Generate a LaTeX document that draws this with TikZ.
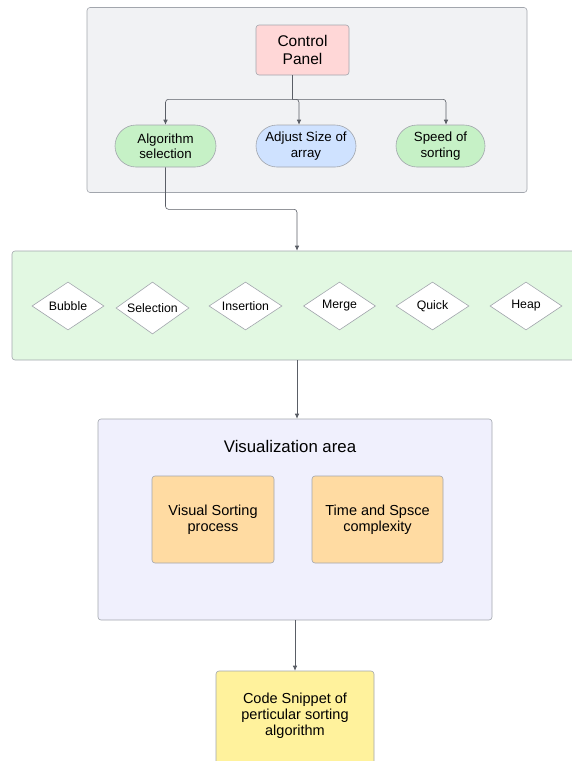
\documentclass[tikz,border=0pt]{standalone}
\usepackage{fontspec}
\setmainfont{Liberation Sans}
\usetikzlibrary{arrows.meta,shapes.geometric}

\definecolor{edgegray}{HTML}{5A5E66}
\definecolor{boxline}{HTML}{A2A6AD}
\definecolor{panelbg}{HTML}{F1F2F4}
\definecolor{pinkfill}{HTML}{FFD7D7}
\definecolor{greenfill}{HTML}{C6F1C6}
\definecolor{bluefill}{HTML}{CFE2FF}
\definecolor{algobg}{HTML}{E2F8E2}
\definecolor{visbg}{HTML}{F0F0FD}
\definecolor{orangefill}{HTML}{FFDBA2}
\definecolor{yellowfill}{HTML}{FFF29C}

\tikzset{
  container/.style={draw=boxline, line width=0.6pt, rounded corners=3pt, inner sep=0pt},
  rectbox/.style={draw=boxline, line width=0.6pt, rounded corners=3pt, align=center, inner sep=2pt},
  pill/.style={draw=boxline, line width=0.6pt, rounded corners=21pt, align=center,
    minimum height=42pt, inner sep=2pt, font=\fontsize{13.3}{15.5}\selectfont},
  algo/.style={diamond, draw=boxline, fill=white, line width=0.6pt, inner sep=0pt,
    minimum width=72pt, minimum height=48pt,
    label={[font=\fontsize{12.3}{14}\selectfont, inner sep=0pt]center:#1}},
  conn/.style={draw=edgegray, line width=0.6pt, rounded corners=3pt},
  arr/.style={conn, -{Latex[length=5pt,width=4.5pt]}},
}

\begin{document}
\begin{tikzpicture}[x=1pt,y=-1pt]
\useasboundingbox (0,0) rectangle (571,761);

% control panel group
\node[container, fill=panelbg, minimum width=440pt, minimum height=185pt] (panel) at (307,100) {};
\node[rectbox, fill=pinkfill, minimum width=93pt, minimum height=50pt,
      font=\fontsize{15.5}{17.5}\selectfont] (cp) at (302.5,50) {Control\\Panel};
\node[pill, fill=greenfill, minimum width=101pt] (alg) at (165.5,146) {Algorithm\\selection};
\node[pill, fill=bluefill, minimum width=100pt] (adj) at (306,146) {Adjust Size of\\array};
\node[pill, fill=greenfill, minimum width=89pt] (spd) at (440.5,146) {Speed of\\sorting};

\draw[conn] ([xshift=-10.5pt]cp.south) -- ++(0,24) coordinate (split);
\draw[arr] (split) -| (alg.north);
\draw[arr] (split) -| ([xshift=-7pt]adj.north);
\draw[arr] (split) -| ([xshift=5.5pt]spd.north);

% sorting algorithms strip
\node[container, fill=algobg, minimum width=570pt, minimum height=109pt] (grn) at (297,305.5) {};
\node[algo=Bubble] (bubble) at (68,306) {};
\node[algo=Selection, minimum width=73pt, minimum height=52pt] (selection) at (152.5,308) {};
\node[algo=Insertion, minimum width=73pt] (insertion) at (245.5,306) {};
\node[algo=Merge] (merge) at (339.5,306) {};
\node[algo=Quick, minimum width=73pt] (quick) at (432.5,306) {};
\node[algo=Heap] (heap) at (526,306) {};

\draw[arr] (alg.south) -- ++(0,42) -| (grn.north);

% visualization area
\node[container, fill=visbg, minimum width=394pt, minimum height=201pt] (vis) at (295,519.5) {};
\node[font=\fontsize{16.8}{19}\selectfont] (vistitle) at (290,446) {Visualization area};
\node[rectbox, fill=orangefill, minimum width=122pt, minimum height=87pt,
      font=\fontsize{14.5}{16.5}\selectfont] (proc) at (213,519.5) {Visual Sorting\\process};
\node[rectbox, fill=orangefill, minimum width=131pt, minimum height=87pt,
      font=\fontsize{14.5}{16.5}\selectfont] (cplx) at (377.5,519.5) {Time and Spsce\\complexity};

\draw[arr] (grn.south) -- (grn.south |- vis.north);

% code snippet panel
\node[rectbox, fill=yellowfill, minimum width=158pt, minimum height=110pt] (code) at (295,726) {};
\node[align=center, font=\fontsize{14.5}{16}\selectfont] (codetxt) at (295,716)
  {Code Snippet of\\perticular sorting\\algorithm};

\draw[arr] (vis.south) -- (code.north);
\end{tikzpicture}
\end{document}
